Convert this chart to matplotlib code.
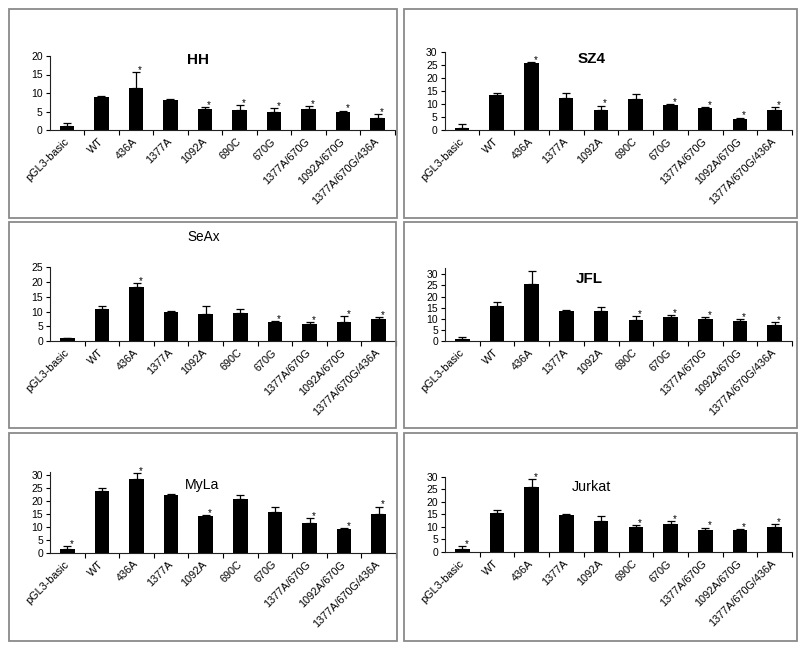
import numpy as np
import matplotlib.pyplot as plt
from matplotlib.patches import Rectangle
from matplotlib.transforms import ScaledTranslation

plt.rcParams['font.family'] = ['Liberation Sans', 'DejaVu Sans']

# ---------------------------------------------------------------- data
categories = ['pGL3-basic', 'WT', '436A', '1377A', '1092A', '690C', '670G',
              '1377A/670G', '1092A/670G', '1377A/670G/436A']

hh_mean = [1.0, 8.8, 11.3, 8.0, 5.8, 5.3, 5.0, 5.8, 4.8, 3.2]
hh_err = [1.0, 0.3, 4.3, 0.5, 0.3, 1.4, 0.9, 0.6, 0.4, 1.1]
hh_star = [0, 0, 1, 0, 1, 1, 1, 1, 1, 1]

sz4_mean = [0.9, 13.5, 25.7, 12.2, 7.9, 12.1, 9.7, 8.6, 4.2, 7.9]
sz4_err = [1.4, 0.8, 0.6, 2.2, 1.5, 1.7, 0.4, 0.3, 0.6, 0.9]
sz4_star = [0, 0, 1, 0, 1, 0, 1, 1, 1, 1]

seax_mean = [1.0, 10.9, 18.4, 10.0, 9.3, 9.6, 6.4, 5.9, 6.6, 7.6]
seax_err = [0.1, 0.9, 1.1, 0.3, 2.5, 1.4, 0.4, 0.5, 1.8, 0.6]
seax_star = [0, 0, 1, 0, 0, 0, 1, 1, 1, 1]

jfl_mean = [1.0, 15.6, 25.8, 13.6, 13.5, 9.4, 10.8, 9.7, 9.0, 7.2]
jfl_err = [0.6, 2.1, 5.8, 0.5, 1.9, 1.8, 0.9, 0.9, 0.7, 1.2]
jfl_star = [0, 0, 0, 0, 0, 1, 1, 1, 1, 1]

myla_mean = [1.3, 23.9, 28.3, 22.3, 14.2, 20.7, 15.7, 11.3, 9.0, 14.9]
myla_err = [1.3, 0.9, 2.3, 0.4, 0.2, 1.7, 1.8, 2.0, 0.4, 2.9]
myla_star = [1, 0, 1, 0, 1, 0, 0, 1, 1, 1]

jurkat_mean = [1.1, 15.5, 26.0, 14.6, 12.2, 10.0, 11.2, 8.9, 8.6, 9.8]
jurkat_err = [1.3, 1.2, 3.0, 0.5, 2.3, 0.6, 1.0, 0.8, 0.4, 1.2]
jurkat_star = [1, 0, 1, 0, 0, 1, 1, 1, 1, 1]

# ---------------------------------------------------------------- layout (pixels)
W, H = 800, 648

def fr(l, t, r, b):
    return [l / W, 1 - b / H, (r - l) / W, (b - t) / H]

panels = [
    # title, mean, err, star, ymax, top tick, axes px, box px, title px, size, bold
    ('HH', hh_mean, hh_err, hh_star, 20, 20, (49.6, 56, 395, 130),
     (9, 9, 397, 218), (198, 60), 11, True),
    ('SZ4', sz4_mean, sz4_err, sz4_star, 30, 30, (444.6, 52.3, 792, 130),
     (404, 9, 797, 218), (592, 59), 11, True),
    ('SeAx', seax_mean, seax_err, seax_star, 25, 25, (50, 267, 396, 341.3),
     (9, 222, 396, 428), (204, 237), 9.8, False),
    ('JFL', jfl_mean, jfl_err, jfl_star, 33, 30, (445, 267.6, 792, 341),
     (404, 222, 797, 428), (589, 279), 11, True),
    ('MyLa', myla_mean, myla_err, myla_star, 31, 30, (50, 472.4, 396, 552.7),
     (9, 433, 397, 641), (202, 485), 10.2, False),
    ('Jurkat', jurkat_mean, jurkat_err, jurkat_star, 30, 30, (445, 476.7, 792, 552),
     (404, 433, 797, 641), (591, 487), 10.4, False),
]

fig = plt.figure(figsize=(8, 6.48), dpi=100)

x = np.arange(len(categories))
shift = ScaledTranslation(-5 / 72, -5 / 72, fig.dpi_scale_trans)

for title, mean, err, star, ymax, ytop, apx, bpx, tpx, tsize, bold in panels:
    # panel frame
    l, t, r, b = bpx
    fig.add_artist(Rectangle((l / W, 1 - b / H), (r - l) / W, (b - t) / H,
                             transform=fig.transFigure, fill=False,
                             edgecolor='#8a8a8a', linewidth=1.3))

    ax = fig.add_axes(fr(*apx))
    mean = np.array(mean)
    err = np.array(err)
    ax.bar(x, mean, width=0.42, color='black', zorder=2)
    eb = ax.errorbar(x, mean, yerr=[np.zeros_like(err), err], fmt='none',
                     ecolor='black', elinewidth=0.9, capsize=2.8, capthick=0.9,
                     zorder=3)
    for art in eb.lines[1] + eb.lines[2]:
        art.set_clip_on(False)
    for i in range(len(x)):
        if star[i]:
            ax.annotate('*', (x[i], mean[i] + err[i]), xytext=(3, -2),
                        textcoords='offset points', ha='center', va='bottom',
                        fontsize=7, annotation_clip=False)

    ax.set_xlim(-0.5, len(x) - 0.5)
    ax.set_ylim(0, ymax)
    ax.set_yticks(np.arange(0, ytop + 1, 5))
    ax.set_xticks(x)
    ax.set_xticklabels(categories, rotation=45, ha='right', va='center',
                       rotation_mode='anchor', fontsize=7.8)
    for lab in ax.get_xticklabels():
        lab.set_transform(lab.get_transform() + shift)
    ax.set_xticks(np.arange(0.5, len(x), 1), minor=True)
    ax.tick_params(axis='x', which='major', length=0, pad=7)
    ax.tick_params(axis='x', which='minor', length=3.5, width=0.8, direction='out')
    ax.tick_params(axis='y', length=3, width=0.8, labelsize=7.5, pad=2)
    for s in ['top', 'right']:
        ax.spines[s].set_visible(False)
    for s in ['left', 'bottom']:
        ax.spines[s].set_linewidth(0.8)
        ax.spines[s].set_color('#222222')
    ax.patch.set_alpha(0)

    fig.text(tpx[0] / W, 1 - tpx[1] / H, title, ha='center', va='center',
             fontsize=tsize, fontweight='bold' if bold else 'normal')

fig.savefig('out.png', dpi=100)
